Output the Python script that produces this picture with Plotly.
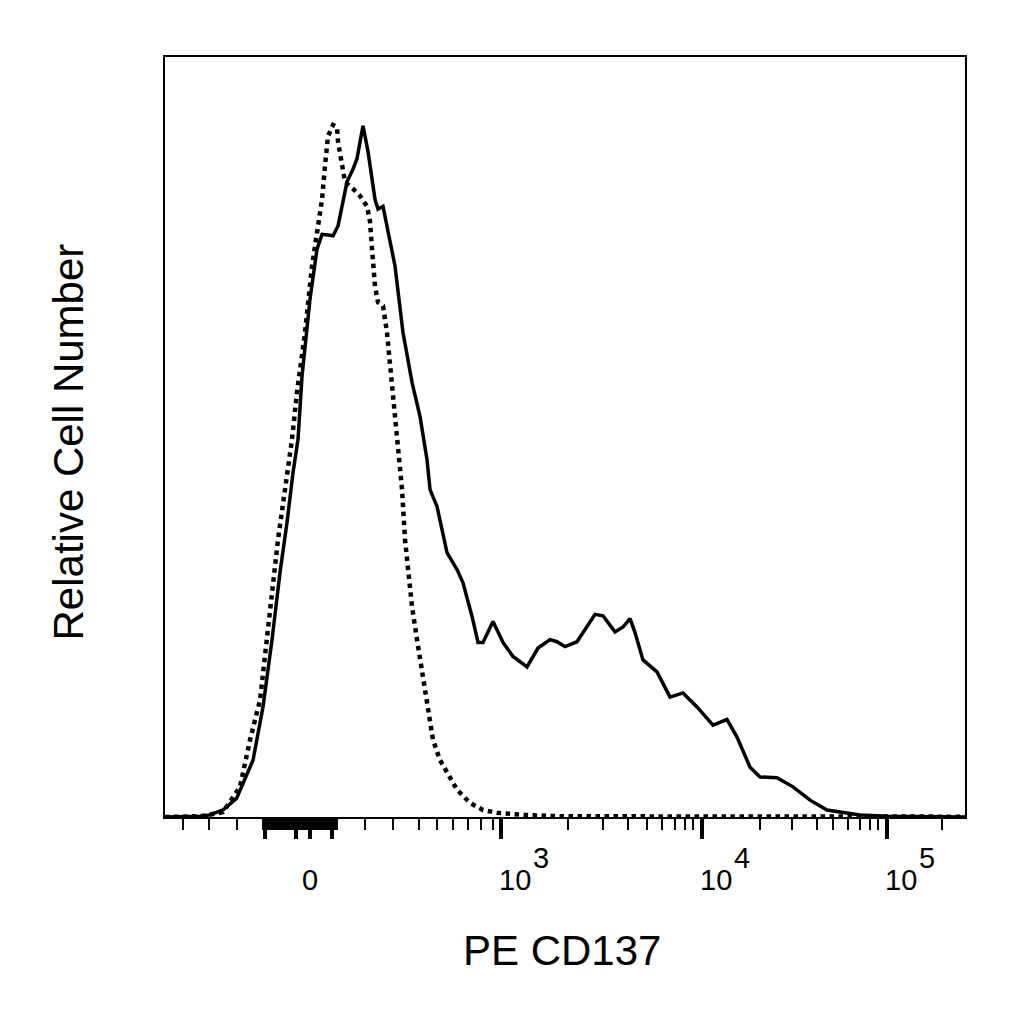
import plotly.graph_objects as go

# Histogram. x is the display channel of the biexponential
# PE axis (0-1000 across the plot), y is the relative cell number.
stained_channel = [
    0, 31, 44, 56, 72.5, 89.6, 110, 122.5, 133.8, 143.8,
    152.5, 160, 166.3, 171.3, 181.3, 190, 196.3, 203.8, 210, 216.3,
    222.5, 227.5, 235, 240, 247.5, 253.8, 262.5, 266.3, 272.5, 281.3,
    287.5, 297.5, 308.8, 318.8, 327.5, 331.3, 340, 352.5, 365, 372.5,
    383.8, 391.3, 397.5, 410, 422.5, 435, 452.5, 466.3, 481.3, 490,
    500, 515, 527.5, 537.5, 547.5, 562.5, 572.5, 581.3, 587.5, 597.5,
    615, 631.3, 647.5, 665, 685, 702.5, 715, 731.3, 743.8, 765,
    785, 806.3, 827.5, 847.5, 868.8, 902.5, 1000,
]
stained_count = [
    0, 0, 0.1, 0.3, 1.0, 2.7, 8.1, 15.7, 25.3, 34.9,
    42.0, 49.1, 53.9, 62.9, 73.9, 81.0, 83.1, 83.0, 82.9, 84.3,
    88.1, 90.6, 92.4, 93.9, 98.6, 94.9, 88.1, 86.7, 87.1, 82.0,
    78.6, 69.1, 62.0, 57.1, 51.0, 46.7, 44.3, 37.7, 35.3, 33.4,
    28.6, 24.9, 24.9, 27.9, 24.9, 22.9, 21.4, 24.1, 25.3, 25.0,
    24.3, 25.0, 27.1, 28.9, 28.7, 26.4, 27.1, 28.3, 26.3, 22.4,
    20.7, 17.1, 17.7, 15.7, 13.1, 13.9, 11.4, 7.1, 5.7, 5.6,
    4.3, 2.4, 1.0, 0.6, 0.3, 0.1, 0,
]

control_channel = [
    0, 44, 58.8, 72.5, 93.8, 106.3, 118.8, 127.5, 133.8, 141.3,
    150, 158.8, 165, 175, 183.8, 190, 196.3, 200, 203.8, 210,
    215, 216.3, 221.3, 225, 235, 243.8, 252.5, 256.3, 258.8, 262.5,
    266.3, 272.5, 277.5, 281.3, 285, 290, 296.3, 300, 303.8, 308.8,
    315, 321.3, 327.5, 335, 343.8, 352.5, 365, 381.3, 397.5, 415,
    447.5, 493.8, 1000,
]
control_count = [
    0, 0.1, 0.4, 0.7, 4.3, 11.0, 16.7, 25.3, 32.4, 39.6,
    46.7, 53.9, 60.6, 69.1, 78.6, 83.4, 88.1, 92.9, 97.1, 98.7,
    98.4, 96.3, 92.9, 90.6, 89.6, 88.6, 87.1, 84.9, 81.0, 75.7,
    73.4, 72.9, 69.1, 64.3, 59.6, 53.9, 46.7, 39.6, 34.9, 30.0,
    25.3, 20.6, 15.7, 11.0, 8.1, 6.3, 3.9, 2.0, 1.0, 0.6,
    0.3, 0.1, 0.05,
]

# axis ticks (channel units)
zero_tick = 181.3
decade_ticks = [420, 670.9, 901.9]
decade_exponents = ["3", "4", "5"]
zero_region_major = [125, 163.8, 181.3, 208.8]
minor_ticks = (
    [22.9, 55.4, 90.4]
    + [122.5 + 2 * i for i in range(47)]
    + [250, 284.6, 317.5, 339.6, 359.6, 379.1, 394.6, 410.4]
    + [504.1, 547.9, 579.1, 602.1, 620.9, 637.5, 650, 660.4]
    + [743.8, 783.4, 814.6, 835.4, 854.1, 868.8, 881.3, 891.6]
    + [970.9]
)

FONT = "Liberation Sans, Arial, sans-serif"


def cd137_histogram():
    fig = go.Figure()

    fig.add_trace(
        go.Scatter(
            x=control_channel,
            y=control_count,
            mode="lines",
            line=dict(color="black", width=4.5, dash="dot"),
            name="Isotype",
        )
    )
    fig.add_trace(
        go.Scatter(
            x=stained_channel,
            y=stained_count,
            mode="lines",
            line=dict(color="black", width=3.5),
            name="PE CD137",
        )
    )

    # tick labels: "0" centred, the decades start at their tick
    annotations = [
        dict(
            x=zero_tick, y=0, xref="x", yref="paper", text="0",
            xanchor="center", yanchor="top", yshift=-45, showarrow=False,
            font=dict(size=29),
        )
    ]
    for tick, exp in zip(decade_ticks, decade_exponents):
        annotations.append(
            dict(
                x=tick, y=0, xref="x", yref="paper", text="10",
                xanchor="left", yanchor="top", xshift=-4, yshift=-45,
                showarrow=False, font=dict(size=29),
            )
        )
        annotations.append(
            dict(
                x=tick, y=0, xref="x", yref="paper", text=exp,
                xanchor="left", yanchor="top", xshift=30, yshift=-23,
                showarrow=False, font=dict(size=29),
            )
        )

    # axis titles
    annotations.append(
        dict(
            x=0.5, y=0, xref="paper", yref="paper", text="PE CD137",
            xanchor="center", yanchor="top", xshift=-3, yshift=-108,
            showarrow=False, font=dict(size=42),
        )
    )
    annotations.append(
        dict(
            x=0, y=0.5, xref="paper", yref="paper", text="Relative Cell Number",
            textangle=-90, xanchor="right", yanchor="middle", xshift=-72,
            yshift=-5, showarrow=False, font=dict(size=42),
        )
    )

    # the page puts the figure 8px in from the corner, margins allow for it
    fig.update_layout(
        width=1024,
        height=1024,
        margin=dict(l=157, r=67, t=49, b=215),
        paper_bgcolor="white",
        plot_bgcolor="white",
        showlegend=False,
        font=dict(family=FONT, size=29, color="black"),
        annotations=annotations,
        xaxis=dict(
            range=[0, 1000],
            showgrid=False,
            zeroline=False,
            showline=True,
            mirror=True,
            linecolor="black",
            linewidth=2,
            ticks="outside",
            tickmode="array",
            tickvals=zero_region_major + decade_ticks,
            ticklen=20,
            tickwidth=4,
            tickcolor="black",
            showticklabels=False,
            minor=dict(
                tickmode="array",
                tickvals=minor_ticks,
                ticks="outside",
                ticklen=11,
                tickwidth=2,
                tickcolor="black",
                showgrid=False,
            ),
        ),
        yaxis=dict(
            range=[0, 108.4],
            showgrid=False,
            zeroline=False,
            showline=True,
            mirror=True,
            linecolor="black",
            linewidth=2,
            ticks="",
            showticklabels=False,
        ),
    )
    return fig


fig = cd137_histogram()
fig.write_html("out.html")
